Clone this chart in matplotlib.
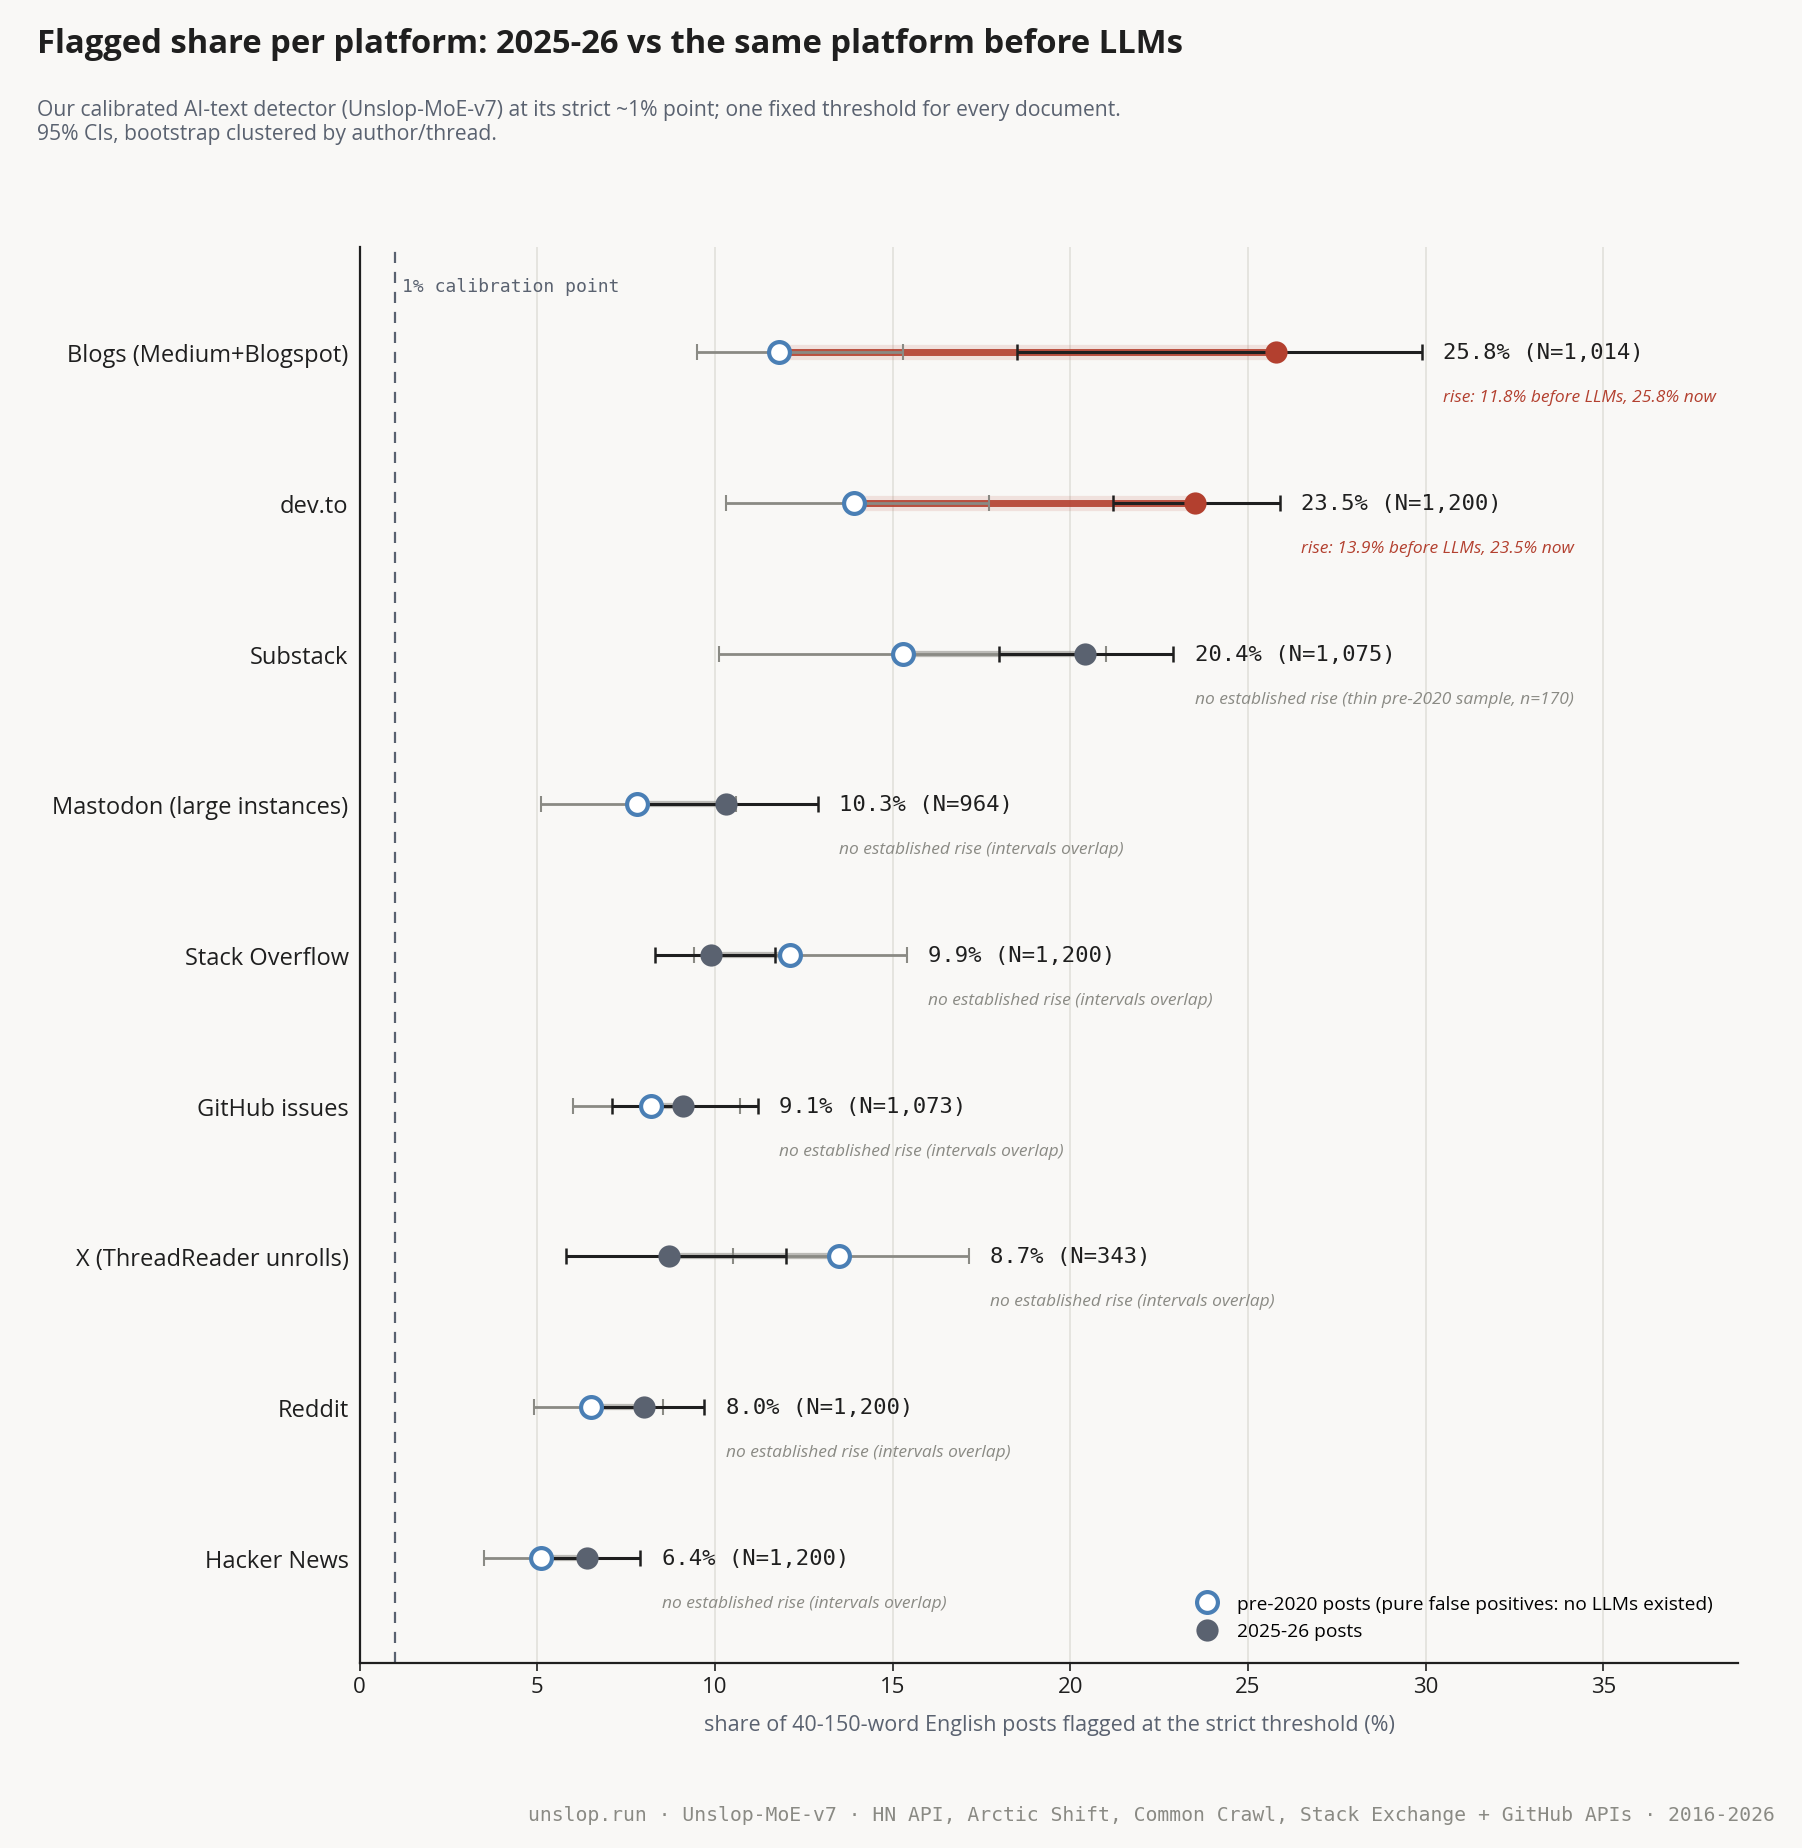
import matplotlib.pyplot as plt

plt.rcParams['font.family'] = ['Open Sans', 'DejaVu Sans']

# platforms, top to bottom
platforms = ['Blogs (Medium+Blogspot)', 'dev.to', 'Substack', 'Mastodon (large instances)',
             'Stack Overflow', 'GitHub issues', 'X (ThreadReader unrolls)', 'Reddit', 'Hacker News']

pre = [11.8, 13.9, 15.3, 7.8, 12.1, 8.2, 13.5, 6.5, 5.1]
pre_lo = [9.5, 10.3, 10.1, 5.1, 9.4, 6.0, 10.5, 4.9, 3.5]
pre_hi = [15.3, 17.7, 21.0, 10.6, 15.4, 10.7, 17.15, 8.55, 6.6]

now = [25.8, 23.5, 20.4, 10.3, 9.9, 9.1, 8.7, 8.0, 6.4]
now_lo = [18.5, 21.2, 18.0, 7.9, 8.3, 7.1, 5.8, 6.5, 5.2]
now_hi = [29.9, 25.9, 22.9, 12.9, 11.7, 11.2, 12.0, 9.7, 7.9]

n_now = ['1,014', '1,200', '1,075', '964', '1,200', '1,073', '343', '1,200', '1,200']
rise = [True, True, False, False, False, False, False, False, False]
notes = ['rise: 11.8% before LLMs, 25.8% now',
         'rise: 13.9% before LLMs, 23.5% now',
         'no established rise (thin pre-2020 sample, n=170)',
         'no established rise (intervals overlap)',
         'no established rise (intervals overlap)',
         'no established rise (intervals overlap)',
         'no established rise (intervals overlap)',
         'no established rise (intervals overlap)',
         'no established rise (intervals overlap)']

BG = '#f9f8f6'
RED = '#b3402f'
SLATE = '#5a6270'
BLUE = '#4a7fb5'
GREY = '#8a8a84'
INK = '#1f1f1f'

fig = plt.figure(figsize=(18.02, 18.49), dpi=100, facecolor=BG)
ax = fig.add_axes([0.1996, 0.100, 0.7651, 0.766], facecolor=BG)

n = len(platforms)
ys = [n - 1 - i for i in range(n)]

for i, y in enumerate(ys):
    # connector between the two estimates
    if rise[i]:
        ax.plot([pre[i], now[i]], [y, y], color=RED, lw=11, alpha=0.12,
                solid_capstyle='butt', zorder=1)
        ax.plot([pre[i], now[i]], [y, y], color=RED, lw=5, alpha=0.9,
                solid_capstyle='butt', zorder=2)
    else:
        ax.plot([pre[i], now[i]], [y, y], color=GREY, lw=4.5, alpha=0.55,
                solid_capstyle='butt', zorder=2)
    # pre-2020 CI
    ax.errorbar(pre[i], y, xerr=[[pre[i] - pre_lo[i]], [pre_hi[i] - pre[i]]],
                fmt='none', ecolor=GREY, elinewidth=2, capsize=6, capthick=1.5, zorder=3)
    # 2025-26 CI
    ax.errorbar(now[i], y, xerr=[[now[i] - now_lo[i]], [now_hi[i] - now[i]]],
                fmt='none', ecolor=INK, elinewidth=2.2, capsize=6, capthick=1.8, zorder=4)
    ax.plot(pre[i], y, 'o', ms=15, mfc='white', mec=BLUE, mew=3, zorder=6)
    ax.plot(now[i], y, 'o', ms=16, mfc=RED if rise[i] else SLATE, mec='none', zorder=6)

    xt = max(pre_hi[i], now_hi[i]) + 0.6
    ax.text(xt, y, f'{now[i]:.1f}% (N={n_now[i]})', family='DejaVu Sans Mono',
            fontsize=16, color=INK, va='center', ha='left', zorder=7)
    ax.text(xt, y - 0.3, notes[i], fontsize=12.5, style='italic',
            color=RED if rise[i] else GREY, va='center', ha='left', zorder=7)

# calibration point
ax.axvline(1, color=SLATE, lw=1.6, ls=(0, (5, 4)), zorder=1)
ax.text(1.2, 8.44, '1% calibration point', family='DejaVu Sans Mono', fontsize=13,
        color=SLATE, va='center', ha='left')

# legend handles
ax.plot([], [], 'o', ms=15, mfc='white', mec=BLUE, mew=3,
        label='pre-2020 posts (pure false positives: no LLMs existed)')
ax.plot([], [], 'o', ms=16, mfc=SLATE, mec='none', label='2025-26 posts')
leg = ax.legend(loc='lower right', bbox_to_anchor=(0.99, 0.008), frameon=False,
                fontsize=13.8, handletextpad=0.6, labelspacing=0.5, borderaxespad=0.2)

ax.set_xlim(0, 38.8)
ax.set_ylim(-0.7, 8.7)
ax.set_yticks(ys)
ax.set_yticklabels(platforms, fontsize=17, color=INK)
ax.set_xticks(range(0, 36, 5))
ax.tick_params(axis='x', labelsize=16, colors=INK, length=6, width=1.2)
ax.tick_params(axis='y', length=0, pad=8)
ax.grid(axis='x', color='#e2e0db', lw=1.2, zorder=0)
ax.set_axisbelow(True)
for s in ['top', 'right']:
    ax.spines[s].set_visible(False)
for s in ['left', 'bottom']:
    ax.spines[s].set_color(INK)
    ax.spines[s].set_linewidth(1.6)

ax.set_xlabel('share of 40-150-word English posts flagged at the strict threshold (%)',
              fontsize=15.5, color=SLATE, labelpad=12)

fig.text(0.0205, 0.985, 'Flagged share per platform: 2025-26 vs the same platform before LLMs',
         fontsize=23.6, fontweight='bold', color=INK, va='top', ha='left')
fig.text(0.0205, 0.946, 'Our calibrated AI-text detector (Unslop-MoE-v7) at its strict ~1% point; '
         'one fixed threshold for every document.\n95% CIs, bootstrap clustered by author/thread.',
         fontsize=15.2, color=SLATE, va='top', ha='left', linespacing=1.2)
fig.text(0.985, 0.018, 'unslop.run · Unslop-MoE-v7 · HN API, Arctic Shift, Common Crawl, '
         'Stack Exchange + GitHub APIs · 2016-2026', family='DejaVu Sans Mono',
         fontsize=14.2, color=GREY, va='center', ha='right')

fig.savefig('out.png', dpi=100, facecolor=BG)
